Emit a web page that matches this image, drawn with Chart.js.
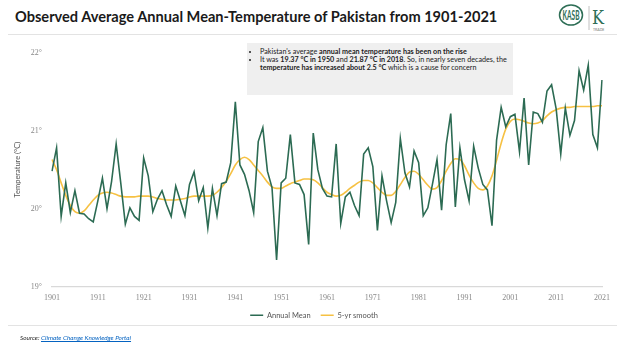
<!DOCTYPE html>
<html>
<head>
<meta charset="utf-8">
<script src="https://cdn.jsdelivr.net/npm/chart.js@4.4.1/dist/chart.umd.min.js"></script>
<style>
  body { margin: 0; width: 625px; height: 352px; background: #fff; overflow: hidden; position: relative; font-family: Lato, "Open Sans", sans-serif; }
  #title { position: absolute; left: 15px; top: 8px; font-size: 14.6px; font-weight: 700; color: #1a1a1a; white-space: nowrap; }
  .rule { position: absolute; left: 8px; width: 609px; height: 1px; background: #e3e3e3; }
  #logo { position: absolute; left: 557px; top: 2px; }
  #note { position: absolute; left: 247px; top: 43px; width: 266px; height: 52px; background: #efefef; box-sizing: border-box; padding: 5px 4px 0 4px; font-size: 7.2px; line-height: 7.8px; color: #222; }
  #note ul { margin: 0; padding-left: 9px; }
  #note li { margin: 0; }
  #src { position: absolute; left: 20px; top: 334px; font-size: 6.4px; font-style: italic; color: #222; }
  #src a { color: #0563c1; text-decoration: underline; }
  #wrap { position: absolute; left: 0; top: 38px; width: 625px; height: 291px; }
</style>
</head>
<body>
<div id="title">Observed Average Annual Mean-Temperature of Pakistan from 1901-2021</div>
<div class="rule" style="top:34px"></div>
<div id="logo">
  <svg width="60" height="31" viewBox="0 0 60 31">
    <ellipse cx="14" cy="13" rx="11.5" ry="10" fill="none" stroke="#2e6e56" stroke-width="1.5"/>
    <text x="14" y="18" text-anchor="middle" font-family="Lato" font-size="14" font-weight="700" fill="#2e6e56" textLength="17" lengthAdjust="spacingAndGlyphs">KASB</text>
    <line x1="32" y1="4" x2="32" y2="28" stroke="#b0b0b0" stroke-width="0.8"/>
    <text x="35" y="22" font-family="DejaVu Serif" font-size="18" fill="#2e6e56" textLength="12" lengthAdjust="spacingAndGlyphs">K</text>
    <text x="36" y="29" font-family="Lato" font-size="3.5" fill="#777">TRADE</text>
  </svg>
</div>
<div id="note">
  <ul>
    <li>Pakistan's average <b>annual mean temperature has been on the rise</b></li>
    <li>It was <b>19.37 °C in 1950</b> and <b>21.87 °C in 2018</b>. So, in nearly seven decades, the<br><b>temperature has increased about 2.5 °C</b> which is a cause for concern</li>
  </ul>
</div>
<div id="wrap"><canvas id="myChart"></canvas></div>
<div class="rule" style="top:325px"></div>
<div id="src">Source: <a href="#">Climate Change Knowledge Portal</a></div>

<script>
// years 1901-2021
var years = [];
for (var y = 1901; y <= 2021; y++) years.push(String(y));

var annualMean = [
  20.48, 20.78, 19.90, 20.33, 19.95, 20.23, 19.94, 19.93, 19.87, 19.83,
  20.10, 20.39, 20.00, 20.35, 20.83, 20.33, 19.80, 20.01, 19.90, 19.85,
  20.65, 20.42, 19.96, 20.12, 20.23, 20.05, 19.90, 20.29, 20.10, 19.91,
  20.31, 20.47, 20.10, 20.27, 19.75, 20.26, 19.91, 20.32, 20.34, 20.59,
  21.37, 20.56, 20.44, 20.23, 19.95, 20.86, 21.04, 20.48, 20.27, 19.34,
  20.33, 20.39, 20.95, 20.33, 20.31, 20.18, 19.54, 20.97, 20.50, 20.26,
  20.16, 20.15, 20.83, 19.81, 20.15, 20.21, 20.04, 19.91, 20.70, 20.78,
  20.54, 19.72, 20.42, 20.10, 19.82, 20.08, 20.90, 20.46, 20.28, 20.74,
  20.59, 19.91, 20.01, 20.31, 20.63, 19.98, 20.82, 21.22, 20.02, 20.78,
  20.37, 20.10, 20.80, 20.52, 20.31, 20.24, 19.78, 20.88, 21.30, 21.05,
  21.18, 21.21, 20.73, 21.42, 20.56, 21.24, 21.22, 21.11, 21.51, 21.59,
  21.28, 20.70, 21.29, 20.94, 21.13, 21.77, 21.52, 21.84, 20.95, 20.78,
  21.65
];

var smooth5 = [
  20.63, 20.50, 20.33, 20.17, 20.04, 19.96, 19.94, 19.97, 20.04, 20.11,
  20.17, 20.20, 20.21, 20.20, 20.18, 20.16, 20.15, 20.15, 20.15, 20.16,
  20.16, 20.16, 20.15, 20.13, 20.12, 20.11, 20.11, 20.11, 20.12, 20.13,
  20.15, 20.16, 20.16, 20.16, 20.16, 20.17, 20.21, 20.27, 20.35, 20.45,
  20.56, 20.63, 20.66, 20.63, 20.56, 20.49, 20.42, 20.34, 20.28, 20.26,
  20.26, 20.29, 20.32, 20.34, 20.36, 20.38, 20.38, 20.37, 20.33, 20.27,
  20.21, 20.18, 20.16, 20.17, 20.21, 20.26, 20.30, 20.34, 20.36, 20.36,
  20.33, 20.27, 20.21, 20.17, 20.17, 20.22, 20.31, 20.40, 20.47, 20.48,
  20.44, 20.37, 20.30, 20.25, 20.27, 20.36, 20.48, 20.58, 20.64, 20.63,
  20.55, 20.43, 20.33, 20.26, 20.24, 20.29, 20.42, 20.62, 20.84, 21.02,
  21.12, 21.15, 21.14, 21.12, 21.10, 21.09, 21.10, 21.13, 21.19, 21.24,
  21.27, 21.29, 21.30, 21.30, 21.31, 21.31, 21.31, 21.31, 21.31, 21.32,
  21.32
];

var yTicks = [19, 20, 21, 22];

var green = '#2c6b53';
var gold = '#f6c143';

var ctx = document.getElementById('myChart').getContext('2d');
var chart = new Chart(ctx, {
  type: 'line',
  data: {
    labels: years,
    datasets: [{
      label: 'Annual Mean',
      data: annualMean,
      borderColor: green,
      backgroundColor: green,
      borderWidth: 1.6,
      pointRadius: 0,
      tension: 0
    }, {
      label: '5-yr smooth',
      data: smooth5,
      borderColor: gold,
      backgroundColor: gold,
      borderWidth: 1.6,
      pointRadius: 0,
      cubicInterpolationMode: 'monotone'
    }]
  },
  options: {
    responsive: true,
    maintainAspectRatio: false,
    animation: false,
    layout: { padding: { top: 9, right: 23, left: 26, bottom: 0 } },
    plugins: {
      tooltip: { enabled: false },
      legend: {
        position: 'bottom',
        labels: {
          usePointStyle: true,
          pointStyle: 'line',
          pointStyleWidth: 13,
          padding: 10,
          color: '#555',
          font: { family: 'Lato', size: 7.5 }
        }
      }
    },
    scales: {
      x: {
        type: 'category',
        offset: false,
        grid: { display: false, drawTicks: false },
        border: { display: true, color: '#d9d9d9', width: 1.2 },
        ticks: {
          autoSkip: false,
          maxRotation: 0,
          padding: 7,
          color: '#888',
          font: { family: 'Liberation Serif', size: 8 },
          callback: function (v, i) { return i % 10 === 0 ? years[i] : ''; }
        },
        afterFit: function (s) { s.height = 15; }
      },
      y: {
        min: 19,
        max: 22,
        afterBuildTicks: function (s) { s.ticks = yTicks.map(function (v) { return { value: v }; }); },
        grid: { display: false, drawTicks: false },
        border: { display: false },
        ticks: {
          padding: 10,
          color: '#888',
          font: { family: 'Liberation Serif', size: 8 },
          callback: function (v) { return v + '°'; }
        },
        title: {
          display: true,
          text: 'Temperature (°C)',
          color: '#555',
          font: { family: 'Lato', size: 7.5 },
          padding: { top: -13, bottom: 0 }
        },
        afterFit: function (s) { s.width = 26; }
      }
    }
  }
});
</script>
</body>
</html>
